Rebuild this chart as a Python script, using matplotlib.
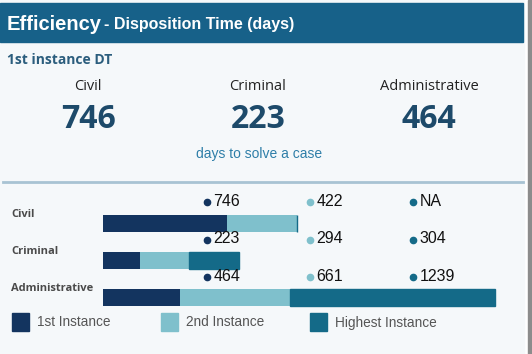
import numpy as np
import matplotlib
matplotlib.use('Agg')
import matplotlib.pyplot as plt
from matplotlib.patches import Rectangle
from matplotlib.lines import Line2D
import matplotlib.transforms as mtrans

# data
categories = ['Civil', 'Criminal', 'Administrative']
first_inst = [746, 223, 464]
second_inst = [422, 294, 661]
highest_inst = [np.nan, 304, 1239]
legend_labels = ['1st Instance', '2nd Instance', 'Highest Instance']

c_first = '#13345f'
c_second = '#7fc0cc'
c_high = '#146a88'
c_band = '#176189'
bg = '#f5f8fa'

W, H = 532, 354
fig = plt.figure(figsize=(W / 100, H / 100), dpi=100)
fig.patch.set_facecolor('white')


def fx(x):
    return x / W


def fy(y):
    return 1 - y / H


# background panel, header band, right border
fig.add_artist(Rectangle((0, 0), fx(524), 1, transform=fig.transFigure, color=bg, zorder=0))
fig.add_artist(Rectangle((fx(528), 0), fx(4), 1, transform=fig.transFigure, color='#8c8c8c', zorder=0))
fig.add_artist(Rectangle((0, fy(42)), fx(523), 39 / H, transform=fig.transFigure, color=c_band, zorder=1))

fig.text(fx(7), fy(24), 'Efficiency', color='white', fontsize=14.5, fontweight='bold',
         family='Liberation Sans', va='center')
fig.text(fx(104), fy(25), '- Disposition Time (days)', color='white', fontsize=11.5, fontweight='bold',
         family='Liberation Sans', va='center')

# KPI section
fig.text(fx(7), fy(60), '1st instance DT', color='#2b5d7d', fontsize=10, fontweight='bold',
         family='Open Sans', va='center')
kpi_x = [88, 258, 429]
for cx, cat, v in zip(kpi_x, categories, first_inst):
    fig.text(fx(cx), fy(87), cat, color='#222222', fontsize=10.5, family='Open Sans',
             ha='center', va='center')
    fig.text(fx(cx), fy(120), str(v), color='#1d4a6a', fontsize=23, fontweight='bold',
             family='Open Sans', ha='center', va='center')
fig.text(fx(259), fy(154), 'days to solve a case', color='#2e7ea8', fontsize=10,
         family='Liberation Sans', ha='center', va='center')

fig.add_artist(Line2D([fx(3), fx(523)], [fy(182), fy(182)], transform=fig.transFigure,
                      color='#a8c3d3', lw=2))

# stacked bars
ax = fig.add_axes([fx(103), fy(316.5), (523 - 103) / W, 112 / H])
ax.set_facecolor('none')
y = np.arange(len(categories))
hi = np.nan_to_num(highest_inst)
left2 = np.array(first_inst)
left3 = left2 + np.array(second_inst)
bh = 0.455
ax.barh(y, first_inst, height=bh, color=c_first)
ax.barh(y, second_inst, left=left2, height=bh, color=c_second)
ax.barh(y, hi, left=left3, height=bh, color=c_high, edgecolor=c_high, linewidth=1)
ax.set_xlim(0, 2533)
ax.set_ylim(2.5, -0.5)
ax.axis('off')

blend = mtrans.blended_transform_factory(fig.transFigure, ax.transData)
col_x = [207, 310, 413]
col_c = [c_first, c_second, c_high]
for i, cat in enumerate(categories):
    ax.text(fx(11), i - 0.24, cat, transform=blend, color='#4a4a4a',
            fontsize=8, fontweight='bold', family='Open Sans', va='center')
    vals = [first_inst[i], second_inst[i], highest_inst[i]]
    for cx, cc, v in zip(col_x, col_c, vals):
        lab = 'NA' if np.isnan(v) else str(int(v))
        ax.plot([fx(cx)], [i - 0.56], 'o', ms=4.5, color=cc, transform=blend, clip_on=False)
        ax.text(fx(cx + 6.5), i - 0.58, lab, transform=blend, color='#111111', fontsize=11.5,
                family='Liberation Sans', va='center')

# legend
leg_x = [12, 161, 310]
for lx, cc, lab in zip(leg_x, col_c, legend_labels):
    fig.add_artist(Rectangle((fx(lx), fy(331)), 17 / W, 18 / H, transform=fig.transFigure,
                             color=cc, zorder=2))
    fig.text(fx(lx + 25), fy(322.5), lab, color='#555555', fontsize=9.8,
             family='Liberation Sans', va='center')

fig.savefig('out.png', dpi=100, facecolor=fig.get_facecolor())
